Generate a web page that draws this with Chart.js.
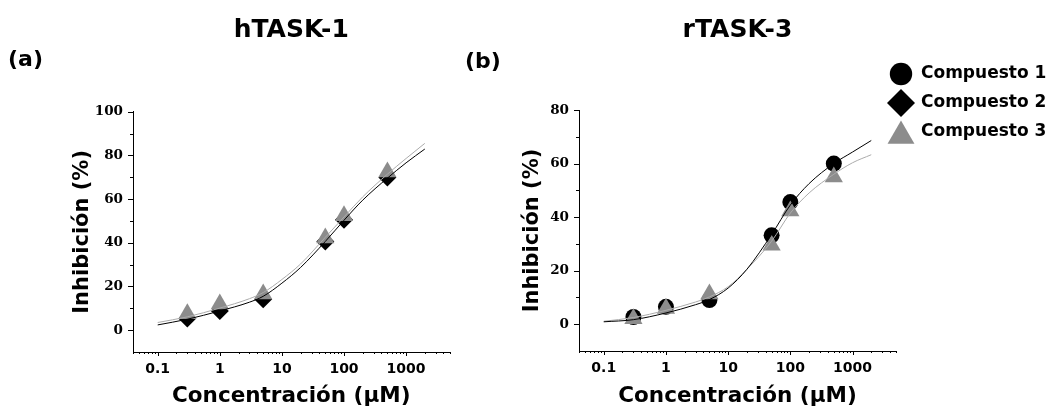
<!DOCTYPE html>
<html>
<head>
<meta charset="utf-8">
<script src="https://cdn.jsdelivr.net/npm/chart.js@4.4.1/dist/chart.umd.min.js"></script>
<style>
  html, body { margin: 0; padding: 0; background: #fff; overflow: hidden; }
  #wrap { position: relative; width: 1050px; height: 409px; }
  canvas { position: absolute; top: 0; }
  #chartA { left: 0; }
  #chartB { left: 460px; }
</style>
</head>
<body>
<div id="wrap">
  <canvas id="chartA" width="460" height="409"></canvas>
  <canvas id="chartB" width="590" height="409"></canvas>
</div>
<script>
// measured points (µM, % inhibition)
const concentrations = [0.3, 1, 5, 50, 100, 500];
const hTask1Comp2 = [5.3, 8.8, 14.2, 40.6, 50.5, 69.9];
const hTask1Comp3 = [7.5, 12.0, 16.5, 42.2, 52.4, 72.4];
const rTask3Comp1 = [2.7, 6.5, 9.0, 33.2, 45.6, 60.0];
const rTask3Comp3 = [2.0, 5.9, 11.3, 29.5, 42.3, 55.0];

// fitted curves
const fitConc = [0.1, 0.3, 1, 3, 5, 10, 20, 50, 100, 200, 500, 1000, 2000];
const hTask1Fit2 = [2.4, 5.0, 8.8, 12.8, 15.5, 21.5, 28.7, 40.6, 50.3, 59.5, 69.6, 76.6, 82.9];
const hTask1Fit3 = [3.5, 6.1, 10.1, 14.4, 17.2, 23.2, 30.3, 42.5, 51.8, 61.0, 71.4, 78.6, 85.5];
const rTask3Fit1 = [0.9, 1.7, 4.2, 7.3, 9.2, 13.5, 20.5, 33.5, 44.5, 52.5, 60.0, 64.3, 68.6];
const rTask3Fit3 = [1.1, 2.5, 5.2, 8.3, 10.2, 14.0, 20.5, 31.0, 41.5, 49.0, 56.0, 60.3, 63.3];

const xTicks = [0.1, 1, 10, 100, 1000];
const xTickLabels = ["0.1", "1", "10", "100", "1000"];
const hTask1YTicks = [0, 20, 40, 60, 80, 100];
const hTask1YMinor = [10, 30, 50, 70, 90];
const rTask3YTicks = [0, 20, 40, 60, 80];
const rTask3YMinor = [10, 30, 50, 70];
const legendLabels = ["Compuesto 1", "Compuesto 2", "Compuesto 3"];

const BLACK = "#000000";
const GRAY = "#8c8c8c";
const GRAY_LINE = "#ababab";
const SANS = "'DejaVu Sans', sans-serif";
const SERIF = "'DejaVu Serif', serif";

const styles = {
  "Compuesto 1": { pointStyle: "circle", color: BLACK, radius: 8, legendRadius: 11.2 },
  "Compuesto 2": { pointStyle: "rectRot", color: BLACK, radius: 9, legendRadius: 14 },
  "Compuesto 3": { pointStyle: "triangle", color: GRAY, radius: 10.5, legendRadius: 15.5 },
};

// minor ticks of the log axis: 2..9 in every decade inside the range
const xMinor = [];
[0.01, 0.1, 1, 10, 100, 1000].forEach((d) => {
  for (let m = 2; m <= 9; m++) {
    const v = +(m * d).toPrecision(3);
    if (v >= 0.04 && v <= 5000) xMinor.push(v);
  }
});

function toPoints(xs, ys) {
  return xs.map((x, i) => ({ x: x, y: ys[i] }));
}

function markerSet(label, ys, order) {
  const s = styles[label];
  return {
    label: label,
    data: toPoints(concentrations, ys),
    pointStyle: s.pointStyle,
    pointRadius: s.radius,
    pointHoverRadius: s.radius,
    backgroundColor: s.color,
    borderColor: s.color,
    borderWidth: 0,
    order: order,
  };
}

function fitSet(label, ys, color) {
  return {
    label: label,
    data: toPoints(fitConc, ys),
    showLine: true,
    borderColor: color,
    borderWidth: 1,
    pointRadius: 0,
    cubicInterpolationMode: "monotone",
    fill: false,
    order: 0,
  };
}

// short outward tick marks (major + minor) on both axes
const tickMarks = {
  id: "tickMarks",
  afterDraw(chart, args, opts) {
    const ctx = chart.ctx;
    const x = chart.scales.x;
    const y = chart.scales.y;
    ctx.save();
    ctx.strokeStyle = BLACK;
    ctx.lineWidth = 1;
    ctx.beginPath();
    const xTick = (v, len) => {
      const px = Math.round(x.getPixelForValue(v)) + 0.5;
      ctx.moveTo(px, x.top);
      ctx.lineTo(px, x.top + len);
    };
    const yTick = (v, len) => {
      const py = Math.round(y.getPixelForValue(v)) + 0.5;
      ctx.moveTo(y.right, py);
      ctx.lineTo(y.right - len, py);
    };
    xTicks.forEach((v) => xTick(v, 4));
    xMinor.forEach((v) => xTick(v, 2));
    opts.yMajor.forEach((v) => yTick(v, 5));
    opts.yMinor.forEach((v) => yTick(v, 3));
    ctx.stroke();
    ctx.restore();
  },
};

// legend for the whole figure, drawn in the right margin of chart (b)
const sideLegend = {
  id: "sideLegend",
  afterDraw(chart, args, opts) {
    if (!opts.labels) return;
    const ctx = chart.ctx;
    ctx.save();
    opts.labels.forEach((label, i) => {
      const s = styles[label];
      const rowY = opts.top + i * opts.spacing;
      const cy = s.pointStyle === "triangle" ? rowY + s.legendRadius / 4 : rowY;
      ctx.fillStyle = s.color;
      ctx.strokeStyle = s.color;
      Chart.helpers.drawPoint(ctx, { pointStyle: s.pointStyle, radius: s.legendRadius, rotation: 0, borderWidth: 0 }, opts.markerX, cy);
      ctx.fillStyle = BLACK;
      ctx.font = "bold 17px " + SANS;
      ctx.textAlign = "left";
      ctx.textBaseline = "middle";
      ctx.fillText(label, opts.textX, rowY);
    });
    ctx.restore();
  },
};

function makeChart(id, cfg) {
  return new Chart(document.getElementById(id).getContext("2d"), {
    type: "scatter",
    data: { datasets: cfg.datasets },
    options: {
      responsive: false,
      animation: false,
      events: [],
      layout: { padding: cfg.padding },
      plugins: {
        legend: { display: false },
        tooltip: { enabled: false },
        title: {
          display: true,
          text: cfg.title,
          fullSize: false,
          color: BLACK,
          font: { family: SANS, size: 25, weight: "bold" },
          padding: { top: 15, bottom: 0 },
        },
        subtitle: {
          display: true,
          text: cfg.panel,
          align: "start",
          color: BLACK,
          font: { family: SANS, size: 22, weight: "bold" },
          padding: cfg.panelPadding,
        },
        tickMarks: { yMajor: cfg.yTicks, yMinor: cfg.yMinor },
        sideLegend: cfg.legend || {},
      },
      scales: {
        x: {
          type: "logarithmic",
          min: 0.04,
          max: 5000,
          afterBuildTicks: (s) => { s.ticks = xTicks.map((v) => ({ value: v })); },
          afterFit: (s) => { s.height = cfg.xHeight; },
          grid: { display: false, drawTicks: true, tickLength: 4 },
          border: { display: true, color: BLACK, width: 1 },
          ticks: {
            autoSkip: false,
            maxRotation: 0,
            padding: 5,
            color: BLACK,
            font: { family: SANS, size: 14, weight: "bold" },
            callback: (v, i) => xTickLabels[i],
          },
          title: {
            display: true,
            text: "Concentración (μM)",
            color: BLACK,
            font: { family: SANS, size: 21.5, weight: "bold" },
            padding: { top: 0, bottom: 0 },
          },
        },
        y: {
          type: "linear",
          min: -10,
          max: cfg.yMax,
          afterBuildTicks: (s) => { s.ticks = cfg.yTicks.map((v) => ({ value: v })); },
          afterFit: (s) => { s.width = cfg.yWidth; },
          grid: { display: false, drawTicks: true, tickLength: 5 },
          border: { display: true, color: BLACK, width: 1 },
          ticks: {
            padding: 5,
            color: BLACK,
            font: { family: SERIF, size: 13.5, weight: "bold" },
          },
          title: {
            display: true,
            text: "Inhibición (%)",
            color: BLACK,
            font: { family: SANS, size: 21, weight: "bold" },
            padding: { top: cfg.yTitlePad, bottom: 0 },
          },
        },
      },
    },
    plugins: [tickMarks, sideLegend],
  });
}

makeChart("chartA", {
  title: "hTASK-1",
  panel: "(a)",
  panelPadding: { top: 2, bottom: 38.3 },
  padding: { left: 8, right: 10, top: 0, bottom: 0 },
  yMax: 100,
  yTicks: hTask1YTicks,
  yMinor: hTask1YMinor,
  yWidth: 125,
  yTitlePad: 62,
  xHeight: 57,
  datasets: [
    fitSet("Ajuste Compuesto 2", hTask1Fit2, BLACK),
    fitSet("Ajuste Compuesto 3", hTask1Fit3, GRAY_LINE),
    markerSet("Compuesto 3", hTask1Comp3, 1),
    markerSet("Compuesto 2", hTask1Comp2, 2),
  ],
});

makeChart("chartB", {
  title: "rTASK-3",
  panel: "(b)",
  panelPadding: { top: 4.3, bottom: 34.3 },
  padding: { left: 5, right: 154, top: 0, bottom: 0 },
  yMax: 80,
  yTicks: rTask3YTicks,
  yMinor: rTask3YMinor,
  yWidth: 114,
  yTitlePad: 55,
  xHeight: 58,
  legend: { labels: legendLabels, top: 74, spacing: 29, markerX: 441, textX: 461 },
  datasets: [
    fitSet("Ajuste Compuesto 1", rTask3Fit1, BLACK),
    fitSet("Ajuste Compuesto 3", rTask3Fit3, GRAY_LINE),
    markerSet("Compuesto 3", rTask3Comp3, 1),
    markerSet("Compuesto 1", rTask3Comp1, 2),
  ],
});
</script>
</body>
</html>
